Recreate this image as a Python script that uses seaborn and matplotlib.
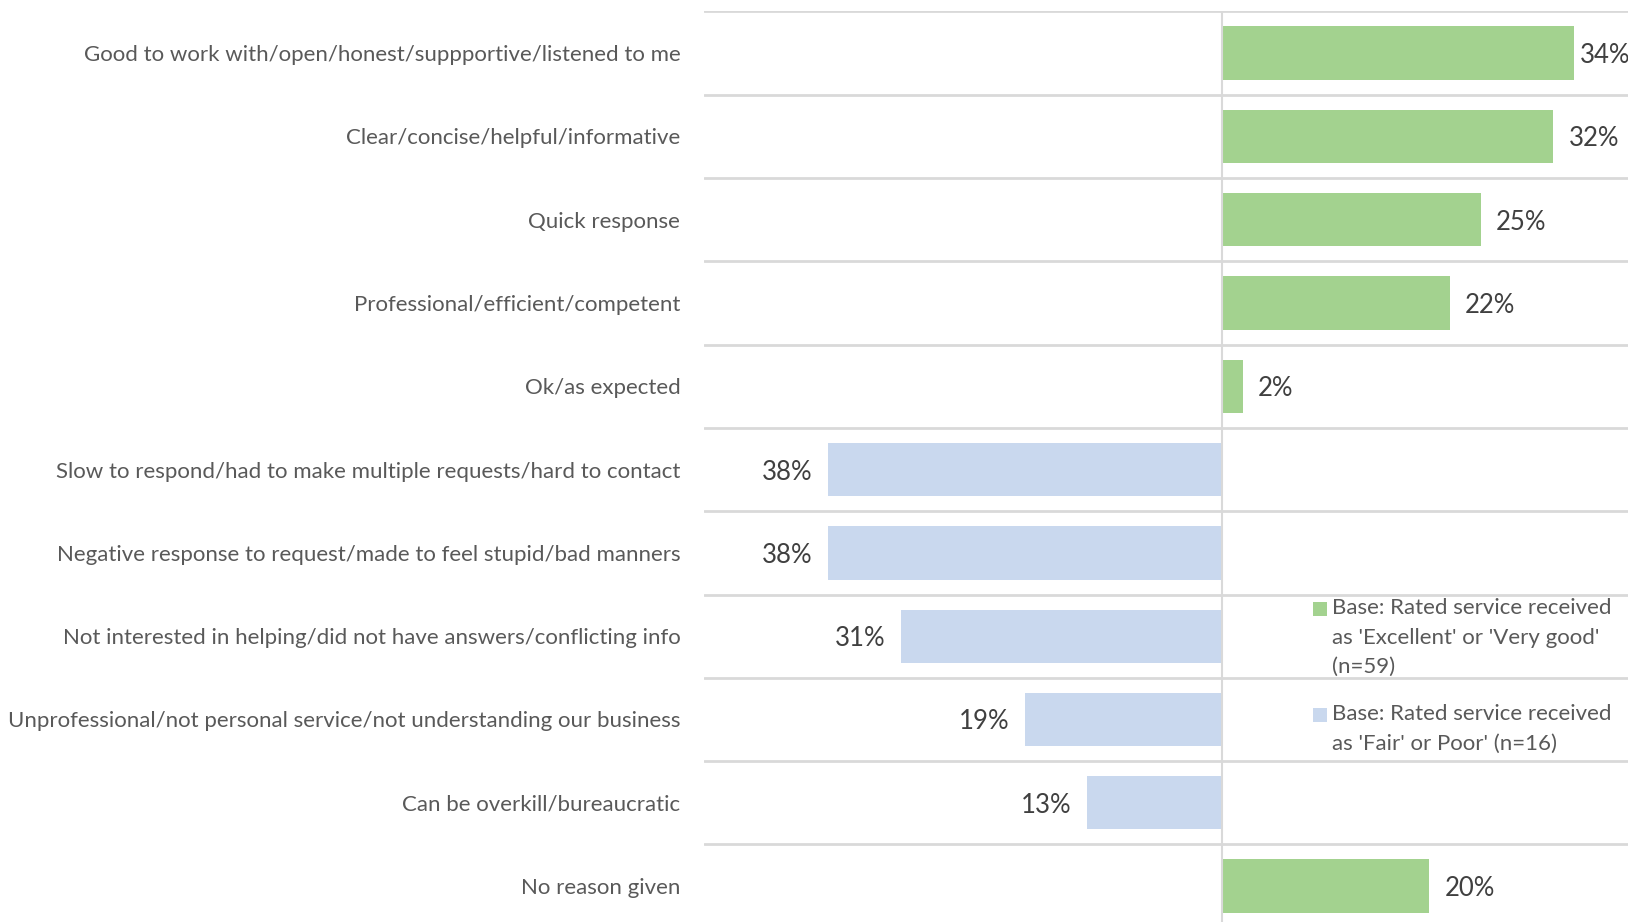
import numpy as np
import pandas as pd
import seaborn as sns
import matplotlib.pyplot as plt
from matplotlib.patches import Rectangle

categories = [
    "Good to work with/open/honest/suppportive/listened to me",
    "Clear/concise/helpful/informative",
    "Quick response",
    "Professional/efficient/competent",
    "Ok/as expected",
    "Slow to respond/had to make multiple requests/hard to contact",
    "Negative response to request/made to feel stupid/bad manners",
    "Not interested in helping/did not have answers/conflicting info",
    "Unprofessional/not personal service/not understanding our business",
    "Can be overkill/bureaucratic",
    "No reason given",
]
# Share of respondents (%) in each rating group
positive_pct = [34, 32, 25, 22, 2, None, None, None, None, None, 20]
negative_pct = [None, None, None, None, None, 38, 38, 31, 19, 13, None]
legend_labels = [
    "Base: Rated service received\nas 'Excellent' or 'Very good'\n(n=59)",
    "Base: Rated service received\nas 'Fair' or Poor' (n=16)",
]

GREEN = "#a3d28f"
BLUE = "#c9d8ee"
GRID = "#d9d9d9"
TEXT = "#595959"
VALUE = "#404040"

rows = []
for cat, p, n in zip(categories, positive_pct, negative_pct):
    if p is not None:
        rows.append({"category": cat, "value": p, "group": "pos"})
    if n is not None:
        rows.append({"category": cat, "value": -n, "group": "neg"})
df = pd.DataFrame(rows)

sns.set_style("white")
plt.rcParams["font.family"] = ["Lato", "DejaVu Sans"]

fig = plt.figure(figsize=(16.28, 9.22), dpi=100)
ax = fig.add_axes([0.4324, -0.0062, 0.5676, 0.9938])

sns.barplot(
    data=df, y="category", x="value", hue="group", order=categories,
    hue_order=["pos", "neg"], palette={"pos": GREEN, "neg": BLUE},
    orient="h", dodge=False, width=0.64, legend=False, ax=ax,
    saturation=1, edgecolor="none", linewidth=0, zorder=2,
)

ax.set_xlim(-50, 39.2)
ax.set_ylim(len(categories) - 0.5, -0.5)
for s in ax.spines.values():
    s.set_visible(False)
for k in range(len(categories) + 1):
    ax.axhline(k - 0.5, color=GRID, lw=2, zorder=1)
ax.axvline(0, color=GRID, lw=1.5, zorder=3)

ax.set_xlabel("")
ax.set_ylabel("")
ax.set_xticks([])
ax.tick_params(axis="y", length=0, pad=17, labelsize=16, labelcolor=TEXT)

# Value labels beside each bar
for i, (p, n) in enumerate(zip(positive_pct, negative_pct)):
    if p is not None:
        off = 4 if p >= 34 else 11
        ax.annotate(f"{p}%", (p, i), xytext=(off, 0), textcoords="offset points",
                    ha="left", va="center_baseline", fontsize=18.5, color=VALUE)
    if n is not None:
        ax.annotate(f"{n}%", (-n, i), xytext=(-11, 0), textcoords="offset points",
                    ha="right", va="center_baseline", fontsize=18.5, color=VALUE)

# Legend drawn as squares with wrapped text
legend_items = [(GREEN, legend_labels[0], 0.351), (BLUE, legend_labels[1], 0.236)]
for color, label, ytop in legend_items:
    fig.patches.append(Rectangle((0.8066, ytop - 0.0190), 0.0085, 0.0150,
                                 transform=fig.transFigure, facecolor=color,
                                 edgecolor="none"))
    fig.text(0.8180, ytop, label, ha="left", va="top", fontsize=16,
             color=TEXT, linespacing=1.58)

fig.savefig("out.png", dpi=100)
